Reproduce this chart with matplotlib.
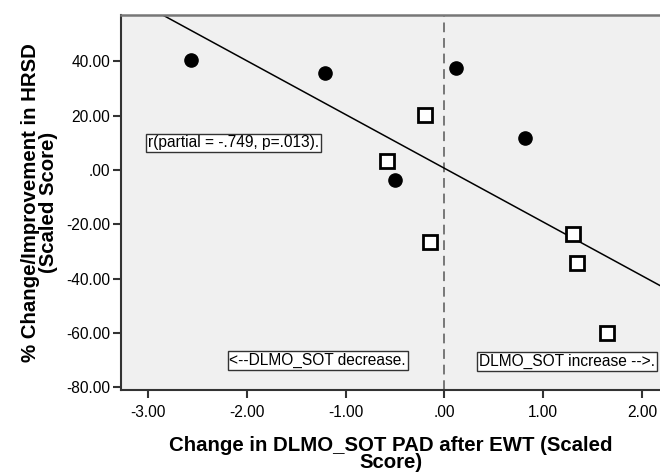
import matplotlib
matplotlib.use("Agg")
import matplotlib.pyplot as plt
import numpy as np

plt.rcParams['font.family'] = ['Liberation Sans', 'DejaVu Sans']

# Data
circle_x = [-2.56, -1.21, 0.115, 0.82, -0.50]
circle_y = [40.4, 35.8, 37.6, 11.6, -3.9]
square_x = [-0.20, -0.58, -0.145, 1.30, 1.34, 1.64]
square_y = [20.2, 3.4, -26.5, -23.5, -34.1, -60.0]
line_intercept = 0.6
line_slope = -19.8
xticks = [-3, -2, -1, 0, 1, 2]
xticklabels = ['-3.00', '-2.00', '-1.00', '.00', '1.00', '2.00']
yticks = [40, 20, 0, -20, -40, -60, -80]
yticklabels = ['40.00', '20.00', '.00', '-20.00', '-40.00', '-60.00', '-80.00']

fig = plt.figure(figsize=(6.6, 4.76), dpi=100)
ax = fig.add_axes([121/660, 86/476, 539/660, 375/476])
ax.set_facecolor('#f0f0f0')

xmin, xmax = -3.27, 2.18
ymin, ymax = -81.0, 57.0
ax.set_xlim(xmin, xmax)
ax.set_ylim(ymin, ymax)

# regression line
lx = np.array([xmin, xmax])
ax.plot(lx, line_intercept + line_slope * lx, color='black', lw=1.1, zorder=2)
# zero reference
ax.axvline(0, color='#777777', lw=1.4, ls=(0, (5, 3)), zorder=1)

ax.plot(circle_x, circle_y, 'o', ms=9.5, color='black', zorder=3)
ax.plot(square_x, square_y, 's', ms=9.5, mfc='white', mec='black', mew=2.0, zorder=3)

fs = 11.2
bbox = dict(boxstyle='square,pad=0.12', fc='white', ec='#333333', lw=1)
ax.text(-2.13, 9.9, 'r(partial = -.749, p=.013).', fontsize=fs, va='center', ha='center', bbox=bbox)
ax.text(-1.28, -70.3, '<--DLMO_SOT decrease.', fontsize=fs, va='center', ha='center', bbox=bbox)
ax.text(1.24, -70.6, 'DLMO_SOT increase -->.', fontsize=fs, va='center', ha='center', bbox=bbox)

ax.set_xticks(xticks)
ax.set_xticklabels(xticklabels, fontsize=fs)
ax.set_yticks(yticks)
ax.set_yticklabels(yticklabels, fontsize=fs)
ax.tick_params(axis='both', direction='out', length=6, width=1.5, color='#333333')
ax.tick_params(axis='x', pad=5)
ax.tick_params(axis='y', pad=2)

for s in ['left', 'bottom']:
    ax.spines[s].set_color('#333333')
    ax.spines[s].set_linewidth(1.5)
ax.spines['top'].set_color('#777777')
ax.spines['top'].set_linewidth(1.8)
ax.spines['right'].set_visible(False)

ax.set_xlabel('Change in DLMO_SOT PAD after EWT (Scaled\nScore)', fontsize=14.7,
              fontweight='bold', linespacing=0.92, labelpad=11)
ax.set_ylabel('% Change/Improvement in HRSD\n(Scaled Score)', fontsize=14.7,
              fontweight='bold', linespacing=0.92, labelpad=6)

fig.savefig('out.png', dpi=100)
